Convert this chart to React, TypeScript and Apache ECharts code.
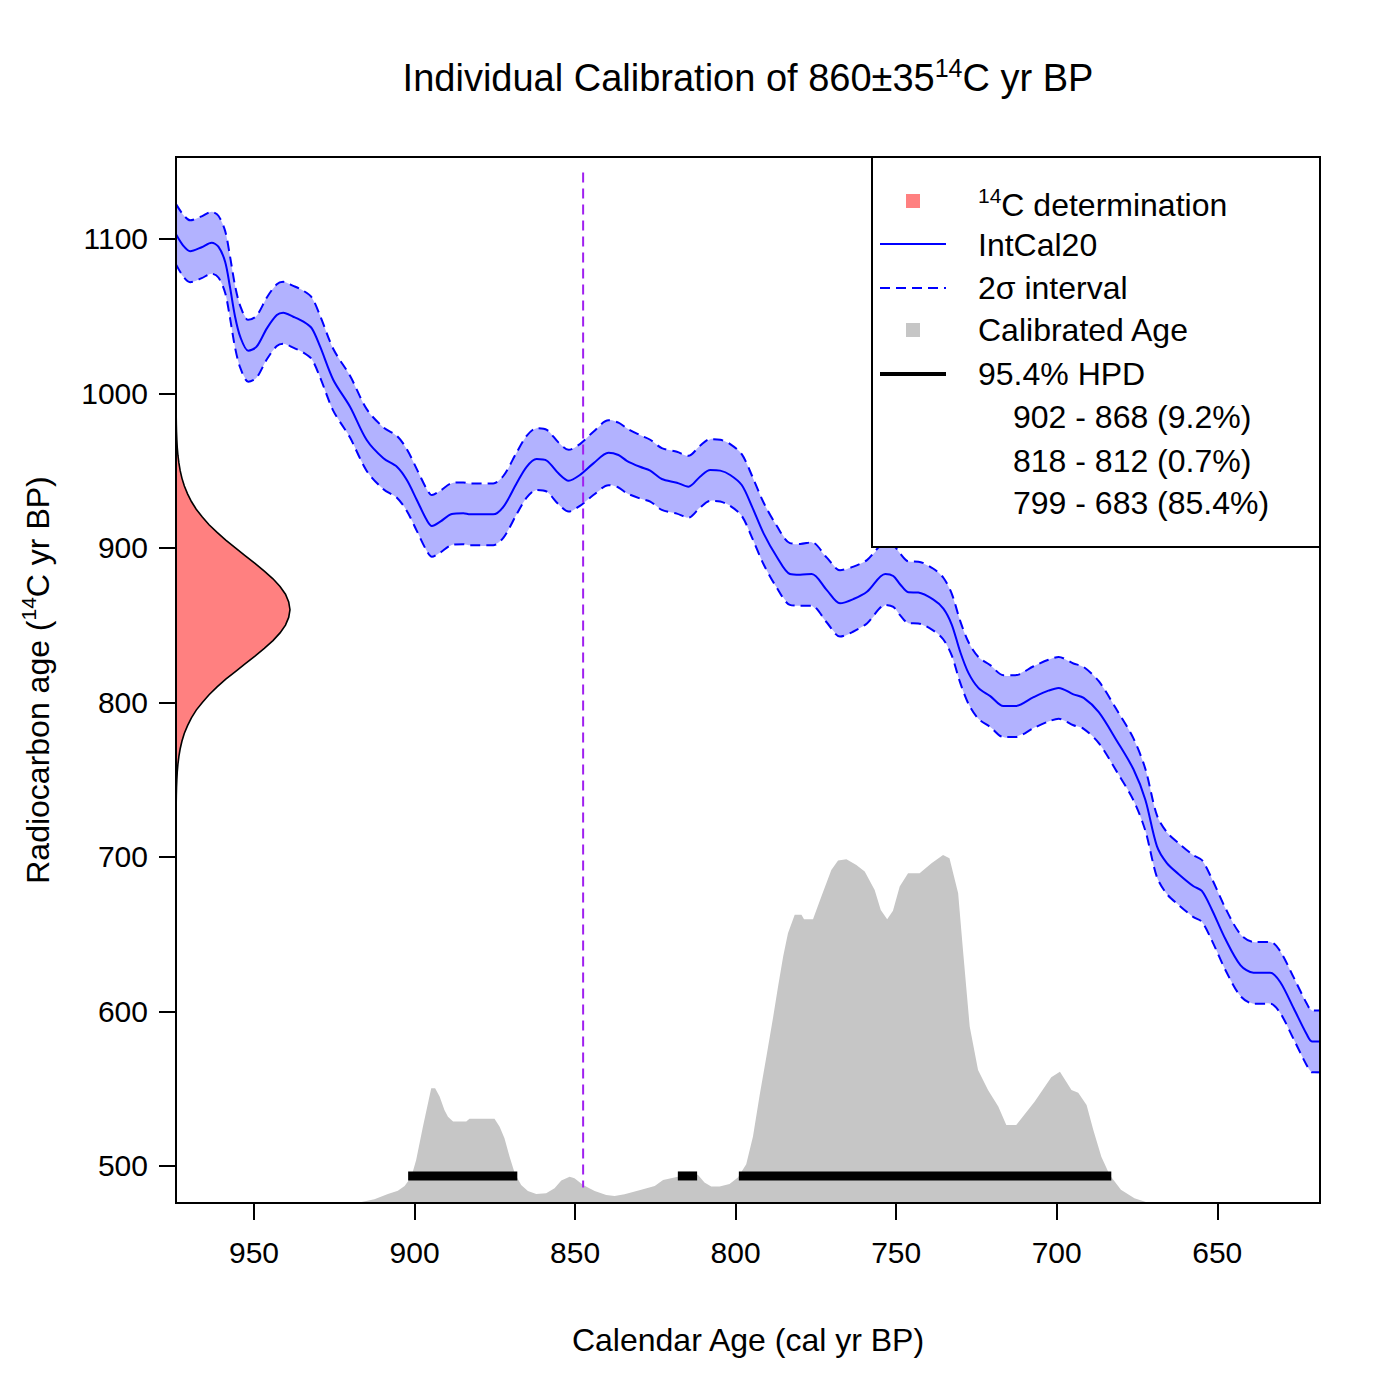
import { useEffect, useRef } from "react";
import * as echarts from "echarts";

const FONT = "'Liberation Sans', Arial, Helvetica, sans-serif";

// Axis extents (calendar age reversed on x)
const X_MIN = 618;
const X_MAX = 974.3;
const Y_MIN = 476;
const Y_MAX = 1153;
const xTicks = [950, 900, 850, 800, 750, 700, 650];
const yTicks = [500, 600, 700, 800, 900, 1000, 1100];

// IntCal20 curve: calendar years, mean 14C age, 2-sigma half width
const curveYears = [
  974.3, 972, 969.9, 966.3, 963.2, 961.1, 959, 957.5, 955.9, 954.3,
  951.8, 949.2, 946, 942.9, 940.9, 937.8, 934.6, 932, 929.4, 925.3,
  920.1, 914.9, 909.7, 905.5, 902.4, 899.3, 896.2, 894.6, 892, 888.4,
  884.8, 882.7, 875.5, 872.3, 868.2, 865.1, 862, 858.8, 855.2, 852,
  848.5, 844.3, 839.6, 836.5, 833.9, 829.8, 826.6, 823, 818.3, 814.7,
  811.1, 807.9, 804.8, 801.7, 798.1, 794.9, 791.3, 787.2, 783.1, 779.9,
  776.3, 771.6, 767.5, 763.3, 759.1, 753.4, 750.9, 748.8, 746.2, 743.1,
  738.4, 735.3, 732.7, 730.1, 727.5, 724.4, 720.7, 716.6, 712.9, 707.2,
  702.6, 699.4, 694.8, 691.6, 686.9, 681.3, 676.1, 672.4, 668.8, 665.7,
  662.1, 657.4, 654.8, 651.7, 647.5, 642.8, 638.7, 633.5, 630.4, 626.2,
  622.1, 620.5, 618,
];
const curveMean = [
  1103, 1095.5, 1092, 1094.6, 1097.5, 1095, 1085.2, 1069, 1049.6, 1036.7,
  1027.6, 1030.2, 1042.1, 1050.7, 1052.2, 1049.6, 1046.4, 1042.1, 1030.2, 1008.7,
  991.4, 969.8, 958, 952.5, 943.9, 931, 918, 914.2, 917, 921.9,
  922.4, 921.7, 921.7, 926.7, 941.8, 952.5, 957.5, 956.4, 948.3, 943.5,
  947.2, 954.7, 961.6, 960.1, 956.4, 952.5, 950, 944.6, 942.2, 939.6,
  946.1, 950.4, 950, 947.2, 940.7, 926.7, 909.4, 894.3, 883.1, 882.6,
  883.1, 872.7, 864.1, 866.9, 871.6, 883.1, 881.8, 876.5, 871.3, 871.1,
  866.5, 860.7, 850.4, 833, 819.1, 809.4, 804.1, 797.6, 797.6, 803.4,
  807.6, 809.4, 805.2, 802.9, 793.7, 775.2, 756.7, 737, 707, 696,
  689, 681, 678, 666, 647, 630, 625, 625, 619, 602,
  585, 580.6, 580.6,
];
const curveHalf = [
  19.5, 20, 20, 20, 20, 20, 20, 20, 20, 20,
  20, 20, 20, 20, 20, 20, 20, 20, 20, 20,
  20, 20, 20, 20, 20, 20, 20, 20, 20, 20,
  20, 20, 20, 20, 20, 20, 20, 20, 20, 20,
  20, 20.5, 21, 21, 21, 20.5, 20, 20, 20, 20,
  20, 20, 20, 20, 20, 20, 20, 20, 20, 20,
  20.5, 21, 21.5, 21, 20.5, 20, 20, 20, 20, 20,
  20, 20, 20, 20, 20, 20, 20, 20, 20, 20,
  20, 20, 20, 20, 20, 20, 20, 20, 20, 20,
  20, 20, 20, 20, 20, 20, 20, 20, 20, 20,
  20, 20, 20,
];

// Calibrated age density (top of grey area, in 14C-axis units)
const densYears = [
  918, 912.5, 908.3, 905.2, 903.1, 901, 899.5, 897.4, 895.6, 894.8,
  893.6, 892.2, 890.7, 889.6, 888, 883.9, 882.9, 875.1, 873.5, 872,
  870.4, 868.8, 866.8, 864.7, 862.1, 859, 856.4, 854.3, 851.7, 850.2,
  847.5, 843.9, 840.3, 837.7, 834.6, 829.4, 825.2, 822.6, 818, 814.3,
  811.7, 809.7, 807.6, 805, 801.9, 799.3, 796.7, 794.6, 792.5, 790.4,
  788.3, 786.8, 785.2, 783.7, 781.6, 779.5, 778.7, 775.9, 773.3, 770.2,
  768.1, 765.5, 762.4, 759.8, 756.7, 754.8, 752.8, 751, 748.9, 746.3,
  742.7, 739, 735.4, 733.4, 730.7, 729.2, 727.1, 724.5, 721.4, 718.2,
  715.7, 712.6, 706.9, 701.7, 699, 695.4, 693.3, 690.7, 688.6, 686.1,
  683.5, 680, 675.8, 671.5, 665,
];
const densTop = [
  476, 478.4, 481.9, 484, 487, 493, 503.9, 525.4, 542.7, 550.3,
  550.3, 544.9, 536.2, 531.9, 528.7, 528.7, 530.6, 530.6, 525.4, 517.9,
  506, 495.3, 487.7, 483.8, 481.9, 482.3, 485.6, 490.5, 493, 492,
  487.7, 483.8, 481.2, 480.6, 481.7, 484.5, 487, 490.9, 493, 496.3,
  494.2, 489.2, 486.6, 486.6, 488.3, 492.5, 501, 519, 546, 571,
  596.6, 616, 635.5, 650.6, 662.5, 662.5, 659.7, 659.7, 674.3, 691.6,
  697.6, 698.5, 694.8, 690.5, 678.6, 665.7, 659.7, 665.2, 680.8, 689.4,
  689.4, 695.9, 701.3, 699.2, 676.5, 639.8, 590.2, 562.1, 549.2, 538.4,
  526.5, 526.5, 541.6, 557.4, 561, 549.2, 547.4, 539.5, 523.3, 506,
  494.2, 484.5, 479.1, 476.2, 476,
];

// 14C determination density (width in calendar years from the left axis)
const detAges = [
  1000, 995, 990, 985, 980, 975, 970, 965, 960, 955,
  950, 945, 940, 935, 930, 925, 920, 915, 910, 905,
  900, 895, 890, 885, 880, 875, 870, 865, 860, 855,
  850, 845, 840, 835, 830, 825, 820, 815, 810, 805,
  800, 795, 790, 785, 780, 775, 770, 765, 760, 755,
  750, 745, 740, 735, 730, 725, 720,
];
const detWidth = [
  0.01, 0.02, 0.035, 0.06, 0.1, 0.16, 0.26, 0.39, 0.6, 0.9,
  1.3, 1.86, 2.6, 3.6, 4.8, 6.3, 8.2, 10.3, 12.8, 15.5,
  18.5, 21.5, 24.6, 27.5, 30.2, 32.4, 34.1, 35.1, 35.5, 35.1,
  34.1, 32.4, 30.2, 27.5, 24.6, 21.5, 18.5, 15.5, 12.8, 10.3,
  8.2, 6.3, 4.8, 3.6, 2.6, 1.86, 1.3, 0.9, 0.6, 0.39,
  0.26, 0.16, 0.1, 0.06, 0.035, 0.02, 0.01,
];

// 95.4% HPD intervals
const hpdStart = [902, 818, 799];
const hpdEnd = [868, 812, 683];
const HPD_LEVEL = 493.5;

// Reference line
const refAge = 847.5;
const refTop = 1143;
const refBottom = 486;
const refLabelAge = 850;
const refLabelC14 = 756;
const refLabelText = "850 cal yrs BP";

const legendRanges = ["902 - 868 (9.2%)", "818 - 812 (0.7%)", "799 - 683 (85.4%)"];

const SMOOTH = 0.3;

function buildOption(): any {
  const supRich = (main: number, sup: number, lh: number, slh: number) => ({
    n: { fontSize: main, lineHeight: lh, fontFamily: FONT, fill: "#000" },
    s: { fontSize: sup, lineHeight: slh, verticalAlign: "top", fontFamily: FONT, fill: "#000" },
  });

  const legendText = (text: string, x: number, y: number) => ({
    type: "text",
    z: 101,
    x,
    y,
    silent: true,
    style: { text, fontSize: 32, fontFamily: FONT, fill: "#000", align: "left", verticalAlign: "middle" },
  });

  return {
    animation: false,
    backgroundColor: "#fff",
    textStyle: { fontFamily: FONT },
    grid: { left: 176, top: 157, width: 1144, height: 1046, show: false },
    xAxis: {
      type: "value",
      min: X_MIN,
      max: X_MAX,
      inverse: true,
      axisLine: { show: false },
      splitLine: { show: false },
      axisTick: { show: true, length: 17, lineStyle: { color: "#000", width: 2 }, customValues: xTicks },
      axisLabel: {
        customValues: xTicks,
        fontSize: 30,
        color: "#000",
        margin: 34,
        fontFamily: FONT,
        formatter: (v: number) => String(v),
      },
    },
    yAxis: {
      type: "value",
      min: Y_MIN,
      max: Y_MAX,
      axisLine: { show: false },
      splitLine: { show: false },
      axisTick: { show: true, length: 17, lineStyle: { color: "#000", width: 2 }, customValues: yTicks },
      axisLabel: {
        customValues: yTicks,
        fontSize: 30,
        color: "#000",
        margin: 28,
        fontFamily: FONT,
        formatter: (v: number) => String(v),
      },
    },
    series: [
      {
        name: "Calibrated Age",
        type: "line",
        data: densYears.map((y, i) => [y, densTop[i]]),
        symbol: "none",
        lineStyle: { width: 0 },
        areaStyle: { color: "#C6C6C6", opacity: 1, origin: "start" },
        z: 1,
        silent: true,
      },
      {
        name: "band",
        type: "custom",
        clip: true,
        z: 2,
        silent: true,
        data: curveYears.map((y, i) => [y, curveMean[i]]),
        renderItem: (params: any, api: any) => {
          if (params.dataIndex !== 0) return null;
          const up = curveYears.map((y, i) => api.coord([y, curveMean[i] + curveHalf[i]]));
          const lo = curveYears.map((y, i) => api.coord([y, curveMean[i] - curveHalf[i]])).reverse();
          return {
            type: "polygon",
            shape: { points: up.concat(lo), smooth: SMOOTH },
            style: { fill: "rgba(0,0,255,0.3)", stroke: "none" },
          };
        },
      },
      {
        name: "upper",
        type: "line",
        data: curveYears.map((y, i) => [y, curveMean[i] + curveHalf[i]]),
        symbol: "none",
        smooth: SMOOTH,
        lineStyle: { color: "#0000FF", width: 2, type: [10, 6] },
        z: 3,
        silent: true,
      },
      {
        name: "lower",
        type: "line",
        data: curveYears.map((y, i) => [y, curveMean[i] - curveHalf[i]]),
        symbol: "none",
        smooth: SMOOTH,
        lineStyle: { color: "#0000FF", width: 2, type: [10, 6] },
        z: 3,
        silent: true,
      },
      {
        name: "IntCal20",
        type: "line",
        data: curveYears.map((y, i) => [y, curveMean[i]]),
        symbol: "none",
        smooth: SMOOTH,
        lineStyle: { color: "#0000FF", width: 2 },
        z: 4,
        silent: true,
      },
      {
        name: "reference",
        type: "line",
        data: [
          [refAge, refTop],
          [refAge, refBottom],
        ],
        symbol: "none",
        lineStyle: { color: "#A020F0", width: 2, type: [10, 6] },
        z: 5,
        silent: true,
      },
      {
        name: "refLabel",
        type: "scatter",
        data: [[refLabelAge, refLabelC14]],
        symbolSize: 1,
        itemStyle: { opacity: 0 },
        label: {
          show: true,
          position: "left",
          distance: 0,
          formatter: refLabelText,
          color: "#A020F0",
          fontSize: 24,
          fontFamily: FONT,
        },
        z: 5,
        silent: true,
      },
      {
        name: "determination",
        type: "custom",
        clip: true,
        z: 6,
        silent: true,
        data: detAges.map((a, i) => [X_MAX - detWidth[i], a]),
        renderItem: (params: any, api: any) => {
          if (params.dataIndex !== 0) return null;
          const pts = [api.coord([X_MAX, detAges[0]])];
          detAges.forEach((a, i) => pts.push(api.coord([X_MAX - detWidth[i], a])));
          pts.push(api.coord([X_MAX, detAges[detAges.length - 1]]));
          return {
            type: "polygon",
            shape: { points: pts },
            style: { fill: "#FF8080", stroke: "#000", lineWidth: 1.6 },
          };
        },
      },
      {
        name: "HPD",
        type: "custom",
        clip: true,
        z: 7,
        silent: true,
        encode: { x: [0, 1], y: 2 },
        data: hpdStart.map((s, i) => [s, hpdEnd[i], HPD_LEVEL]),
        renderItem: (params: any, api: any) => {
          const p1 = api.coord([api.value(0), api.value(2)]);
          const p2 = api.coord([api.value(1), api.value(2)]);
          return {
            type: "rect",
            shape: { x: Math.min(p1[0], p2[0]), y: p1[1] - 4.5, width: Math.abs(p2[0] - p1[0]), height: 9 },
            style: { fill: "#000" },
          };
        },
      },
    ],
    graphic: [
      {
        type: "rect",
        z: 50,
        silent: true,
        shape: { x: 176, y: 157, width: 1144, height: 1046 },
        style: { fill: "none", stroke: "#000", lineWidth: 2 },
      },
      {
        type: "text",
        z: 50,
        x: 748,
        y: 78,
        silent: true,
        style: {
          text: "{n|Individual Calibration of 860±35}{s|14}{n|C yr BP}",
          rich: supRich(38, 25, 46, 20),
          align: "center",
          verticalAlign: "middle",
        },
      },
      {
        type: "text",
        z: 50,
        x: 748,
        y: 1340,
        silent: true,
        style: {
          text: "Calendar Age (cal yr BP)",
          fontSize: 32,
          fontFamily: FONT,
          fill: "#000",
          align: "center",
          verticalAlign: "middle",
        },
      },
      {
        type: "text",
        z: 50,
        x: 38,
        y: 680,
        rotation: Math.PI / 2,
        silent: true,
        style: {
          text: "{n|Radiocarbon age (}{s|14}{n|C yr BP)}",
          rich: supRich(32, 21, 40, 16),
          align: "center",
          verticalAlign: "middle",
        },
      },
      // legend
      {
        type: "rect",
        z: 100,
        silent: true,
        shape: { x: 872, y: 157, width: 448, height: 390 },
        style: { fill: "#fff", stroke: "#000", lineWidth: 2 },
      },
      {
        type: "rect",
        z: 101,
        silent: true,
        shape: { x: 906, y: 194, width: 14, height: 14 },
        style: { fill: "#FF8080" },
      },
      {
        type: "text",
        z: 101,
        x: 978,
        y: 205,
        silent: true,
        style: {
          text: "{s|14}{n|C determination}",
          rich: supRich(32, 21, 40, 15),
          align: "left",
          verticalAlign: "middle",
        },
      },
      {
        type: "line",
        z: 101,
        silent: true,
        shape: { x1: 880, y1: 244, x2: 946, y2: 244 },
        style: { stroke: "#0000FF", lineWidth: 2 },
      },
      legendText("IntCal20", 978, 245),
      {
        type: "line",
        z: 101,
        silent: true,
        shape: { x1: 880, y1: 288, x2: 946, y2: 288 },
        style: { stroke: "#0000FF", lineWidth: 2, lineDash: [10, 6] },
      },
      legendText("2σ interval", 978, 288),
      {
        type: "rect",
        z: 101,
        silent: true,
        shape: { x: 906, y: 323, width: 14, height: 14 },
        style: { fill: "#C6C6C6" },
      },
      legendText("Calibrated Age", 978, 330),
      {
        type: "line",
        z: 101,
        silent: true,
        shape: { x1: 880, y1: 374, x2: 946, y2: 374 },
        style: { stroke: "#000", lineWidth: 4 },
      },
      legendText("95.4% HPD", 978, 374),
      legendText(legendRanges[0], 1013, 417),
      legendText(legendRanges[1], 1013, 461),
      legendText(legendRanges[2], 1013, 503),
    ],
  };
}

export default function App() {
  const ref = useRef<HTMLDivElement>(null);
  useEffect(() => {
    if (!ref.current) return;
    const chart = echarts.init(ref.current, null, { renderer: "svg" });
    chart.setOption(buildOption());
    return () => chart.dispose();
  }, []);
  return (
    <div
      ref={ref}
      style={{ position: "fixed", left: 0, top: 0, width: 1400, height: 1400, background: "#fff" }}
    />
  );
}
